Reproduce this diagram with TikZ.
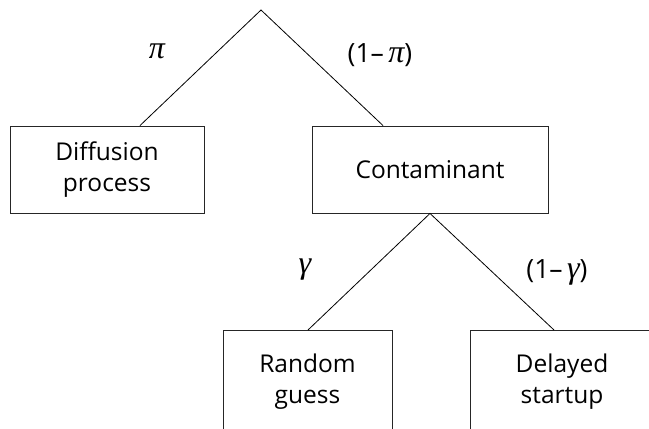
\documentclass[tikz,border=0pt]{standalone}
\usepackage{fontspec}
\setmainfont{Open Sans}
\newfontfamily\grk{Liberation Serif}
\usetikzlibrary{calc}
\newcommand{\gk}[1]{{\grk\itshape\fontsize{32}{32}\selectfont #1}}
\begin{document}
\begin{tikzpicture}[x=1pt,y=1pt,
  box/.style={draw=black!85, line width=0.9pt, rectangle, align=center, inner sep=0pt,
    font=\fontsize{24.5}{31}\selectfont},
  link/.style={draw=black, line width=0.8pt},
  lab/.style={font=\fontsize{26.5}{28}\selectfont, inner sep=0pt}]
\useasboundingbox (0,0) rectangle (649,-429);
\clip (0,0) rectangle (649,-429);
\coordinate (apex) at (261,-10);
\node[box, minimum width=194, minimum height=87] (diff) at (107,-169.5) {Diffusion\\process};
\node[box, minimum width=236, minimum height=87] (cont) at (430,-169.5) {Contaminant};
\node[box, minimum width=169, minimum height=102, anchor=north] (rnd) at (307.5,-330) {Random\\guess};
\node[box, minimum width=184, minimum height=102, anchor=north] (del) at (562,-330) {Delayed\\startup};
\draw[link] ($(diff.north)+(33,0)$) -- (apex) -- ($(cont.north)+(-47,0)$);
\draw[link] ($(rnd.north)+(0.5,0)$) -- (cont.south) -- ($(del.north)+(-8,0)$);
\node[lab] (pi) at (157,-51) {\gk{π}};
\node[lab] (pim) at (380,-55) {(1–\,\gk{π})};
\node[lab] (ga) at (305,-270) {\gk{γ}};
\node[lab] (gam) at (557,-272) {(1–\,\gk{γ})};
\end{tikzpicture}
\end{document}
